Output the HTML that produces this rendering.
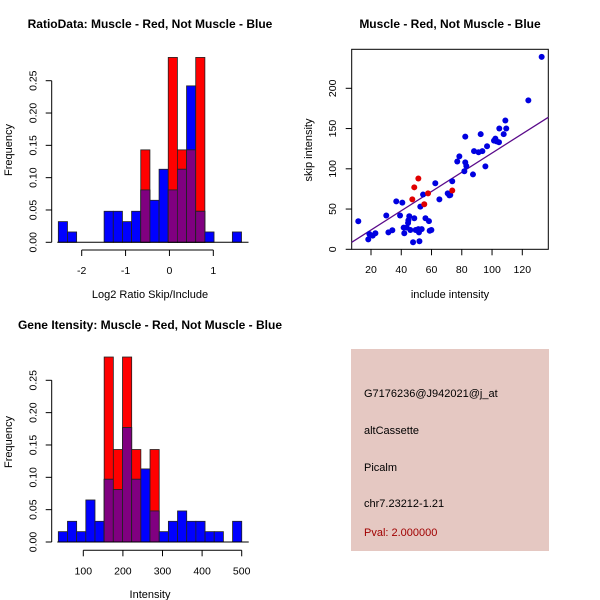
<!DOCTYPE html>
<html><head><meta charset="utf-8"><style>
html,body{margin:0;padding:0;background:#fff;}
svg{display:block;font-family:"Liberation Sans",sans-serif;}
</style></head><body>
<svg id="chart" width="600" height="600" viewBox="0 0 600 600" xmlns="http://www.w3.org/2000/svg">
<rect x="0" y="0" width="600" height="600" fill="#fff"/>
<text x="150" y="28" text-anchor="middle" font-size="12" font-weight="bold">RatioData: Muscle - Red, Not Muscle - Blue</text>
<text x="450" y="28" text-anchor="middle" font-size="12" font-weight="bold">Muscle - Red, Not Muscle - Blue</text>
<text x="150" y="329" text-anchor="middle" font-size="12" font-weight="bold">Gene Itensity: Muscle - Red, Not Muscle - Blue</text>
<g id="h1"></g>
<g id="sc"></g>
<g id="h2"></g>
<g>
<rect x="351" y="349" width="198" height="202" fill="#E5C8C2"/>
<text x="364" y="397" font-size="11">G7176236@J942021@j_at</text>
<text x="364" y="434" font-size="11">altCassette</text>
<text x="364" y="471" font-size="11">Picalm</text>
<text x="364" y="507" font-size="11">chr7.23212-1.21</text>
<text x="364" y="536" font-size="11" fill="#A00000">Pval: 2.000000</text>
</g>
</svg>
<script>
// Ratio histogram data
const ratioBinStart = -2.533;
const ratioBinWidth = 0.2088;
const ratioBlue = [0.032,0.016,0,0,0,0.048,0.048,0.032,0.048,0.081,0.065,0.113,0.081,0.113,0.242,0.048,0.016,0,0,0.016];
const ratioRed  = [0,0,0,0,0,0,0,0,0,0.143,0,0,0.286,0.143,0.143,0.286,0,0,0,0];
const ratioXTicks = [-2,-1,0,1];
const freqTicks = [0,0.05,0.10,0.15,0.20,0.25];
const freqTickLabels = ["0.00","0.05","0.10","0.15","0.20","0.25"];
// Intensity histogram data
const intBinStart = 36.9;
const intBinWidth = 23.16;
const intBlue = [0.016,0.032,0.016,0.065,0.032,0.097,0.081,0.177,0.097,0.113,0.048,0.016,0.032,0.048,0.032,0.032,0.016,0.016,0,0.032];
const intRed  = [0,0,0,0,0,0.286,0.143,0.286,0.143,0,0.143,0,0,0,0,0,0,0,0,0];
const intXTicks = [100,200,300,400,500];
// Scatter data
const includeBlue = [11.6,18.2,18.9,21.1,22.9,30.1,31.5,34.1,36.7,39.2,40.7,41.6,42,43.6,44.5,45.3,44.7,46,47.8,48.6,49.5,51.3,51.7,52,52.6,53.5,54.4,56,58.3,58.8,59.9,62.5,65.2,70.7,71.8,72.4,73.7,77,78.4,81.7,82.3,82.3,83,87.4,88.1,91.1,92.5,93.6,96.7,95.6,101.3,102.2,103,104.6,104.8,107.7,108.8,109.4,124,132.8];
const skipBlue = [34.8,12.4,19,17,20,42,21,23.6,59.6,42,58,27,20,27,32.7,41,36,24,8.7,38.5,24,25,21,10,53,25,68,38.5,35,23,24,82,62,69.5,67,67.5,84.5,109,115.5,97,140,108,103.5,93,122,120.5,143,122,128,103,135,137.5,134,133,150,143,160,150,185,239];
const includeRed = [47.3,48.6,51.3,55.2,57.7,73.7];
const skipRed = [62,77,88,56,69.5,73];
const fitSlope = 1.195;
const fitIntercept = 0.05;
const scXTicks = [20,40,60,80,100,120];
const scYTicks = [0,50,100,150,200];

const NS = "http://www.w3.org/2000/svg";
function mk(parent, tag, attrs, txt){
  const e = document.createElementNS(NS, tag);
  for (const k in attrs) e.setAttribute(k, attrs[k]);
  if (txt !== undefined) e.textContent = txt;
  parent.appendChild(e);
  return e;
}

function drawHist(g, cfg){
  const xs = v => cfg.x0px + (v - cfg.x0) * cfg.xscale;
  const ys = v => cfg.basePx - v * cfg.yscale;
  for (let i = 0; i < cfg.blue.length; i++){
    const l = xs(cfg.binStart + i*cfg.binWidth), r = xs(cfg.binStart + (i+1)*cfg.binWidth);
    const b = cfg.blue[i], rd = cfg.red[i];
    if (rd > 0){
      const e = mk(g,'rect',{x:l,y:ys(rd),width:r-l,height:ys(0)-ys(rd),fill:'#FF0000',stroke:'#222','stroke-width':0.8});
      
      
    }
    if (b > 0){
      const e = mk(g,'rect',{x:l,y:ys(b),width:r-l,height:ys(0)-ys(b),fill:'#0000FF',stroke:'#222','stroke-width':0.8});
      
      
    }
    const m = Math.min(b, rd);
    if (m > 0){
      const e = mk(g,'rect',{x:l,y:ys(m),width:r-l,height:ys(0)-ys(m),fill:'#800080',stroke:'#222','stroke-width':0.8});
      
      
    }
  }
  const bl = mk(g,'line',{x1:xs(cfg.binStart)-1,x2:xs(cfg.binStart+cfg.blue.length*cfg.binWidth)+7,y1:cfg.basePx,y2:cfg.basePx,stroke:'#000','stroke-width':1});
  
  
  const ya = mk(g,'g',{});
  
  
  const yax = 51.7;
  mk(ya,'line',{x1:yax,x2:yax,y1:ys(freqTicks[0]),y2:ys(freqTicks[freqTicks.length-1]),stroke:'#000'});
  freqTicks.forEach((t,i)=>{
    mk(ya,'line',{x1:yax-6,x2:yax,y1:ys(t),y2:ys(t),stroke:'#000'});
    mk(ya,'text',{x:0,y:0,'font-size':10.5,'text-anchor':'middle',transform:`translate(${yax-15},${ys(t)}) rotate(-90)`},freqTickLabels[i]);
  });
  const yl = mk(g,'text',{x:0,y:0,'font-size':11,'text-anchor':'middle',transform:`translate(12,${cfg.ylabelY}) rotate(-90)`},'Frequency');
  
  
  const xa = mk(g,'g',{});
  
  
  const axY = cfg.axisPx;
  mk(xa,'line',{x1:xs(cfg.ticks[0]),x2:xs(cfg.ticks[cfg.ticks.length-1]),y1:axY,y2:axY,stroke:'#000'});
  cfg.ticks.forEach(t=>{
    mk(xa,'line',{x1:xs(t),x2:xs(t),y1:axY,y2:axY+6,stroke:'#000'});
    mk(xa,'text',{x:xs(t),y:axY+24,'font-size':10.5,'text-anchor':'middle'},String(t));
  });
  const xl = mk(g,'text',{x:150,y:cfg.xlabelY,'font-size':11,'text-anchor':'middle'},cfg.xlabel);
  
  
}

drawHist(document.getElementById('h1'), {
  prefix:'ratio', blue:ratioBlue, red:ratioRed, binStart:ratioBinStart, binWidth:ratioBinWidth,
  x0:-2, x0px:81.7, xscale:43.87, basePx:242.3, yscale:646.4, axisPx:250,
  ticks:ratioXTicks, xlabel:'Log2 Ratio Skip/Include', xlabelY:298, ylabelY:150
});
drawHist(document.getElementById('h2'), {
  prefix:'intensity', blue:intBlue, red:intRed, binStart:intBinStart, binWidth:intBinWidth,
  x0:100, x0px:83.3, xscale:0.396, basePx:542, yscale:646.8, axisPx:550.3,
  ticks:intXTicks, xlabel:'Intensity', xlabelY:598, ylabelY:442
});

(function(){
  const g = document.getElementById('sc');
  const xs = v => 371 + (v - 20) * 1.513;
  const ys = v => 249.3 - v * 0.805;
  const box = mk(g,'rect',{x:351.7,y:49.3,width:196.6,height:200,fill:'none',stroke:'#000'});
  
  
  const xa = mk(g,'g',{});
  
  
  scXTicks.forEach(t=>{
    mk(xa,'line',{x1:xs(t),x2:xs(t),y1:249.3,y2:255.3,stroke:'#000'});
    mk(xa,'text',{x:xs(t),y:273,'font-size':10.5,'text-anchor':'middle'},String(t));
  });
  const ya = mk(g,'g',{});
  
  
  scYTicks.forEach(t=>{
    mk(ya,'line',{x1:345.7,x2:351.7,y1:ys(t),y2:ys(t),stroke:'#000'});
    mk(ya,'text',{x:0,y:0,'font-size':10.5,'text-anchor':'middle',transform:`translate(336,${ys(t)}) rotate(-90)`},String(t));
  });
  const xl = mk(g,'text',{x:450,y:298,'font-size':11,'text-anchor':'middle'},'include intensity');
  
  
  const yl = mk(g,'text',{x:0,y:0,'font-size':11,'text-anchor':'middle',transform:'translate(312,150) rotate(-90)'},'skip intensity');
  
  
  const xmin = 20 + (351.7-371)/1.513, xmax = 20 + (548.3-371)/1.513;
  const fl = mk(g,'line',{x1:xs(xmin),y1:ys(fitIntercept+fitSlope*xmin),x2:xs(xmax),y2:ys(fitIntercept+fitSlope*xmax),stroke:'#5A0A8A','stroke-width':1.3});
  
  
  includeBlue.forEach((v,i)=>{
    const c = mk(g,'circle',{cx:xs(v),cy:ys(skipBlue[i]),r:3,fill:'#0000E0'});
    
    
  });
  includeRed.forEach((v,i)=>{
    const c = mk(g,'circle',{cx:xs(v),cy:ys(skipRed[i]),r:3,fill:'#E00000'});
    
    
  });
})();
</script>
</body></html>
